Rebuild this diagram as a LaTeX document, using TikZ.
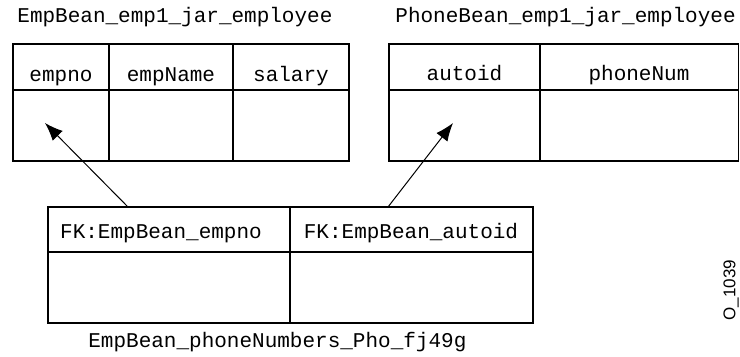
\documentclass[tikz,border=0pt]{standalone}
\usepackage{fontspec}
\newfontfamily\monof{Liberation Mono}
\newfontfamily\sansf{Liberation Sans}
\usetikzlibrary{arrows.meta}
\begin{document}
\begin{tikzpicture}[x=0.5pt,y=-0.5pt,
  cell/.style={draw, line width=0.6pt, inner sep=0pt, rectangle},
  hdr/.style={cell, minimum height=23pt},
  dat/.style={cell, minimum height=35.5pt},
  txt/.style={font=\monof\fontsize{10.5pt}{12pt}\selectfont, inner sep=0pt, anchor=base},
  fk/.style={line width=0.5pt, -{Latex[length=9pt,width=7pt]}}]
\useasboundingbox (0,0) rectangle (740,357);
% Table 1
\node[txt, anchor=base west] (t1) at (17,23) {EmpBean\_emp1\_jar\_employee};
\node[hdr, minimum width=48pt] (h11) at (61,67) {};
\node[hdr, minimum width=62pt] (h12) at (171,67) {};
\node[hdr, minimum width=58pt] (h13) at (291,67) {};
\node[dat, minimum width=48pt] (d11) at (61,125.5) {};
\node[dat, minimum width=62pt] (d12) at (171,125.5) {};
\node[dat, minimum width=58pt] (d13) at (291,125.5) {};
\node[txt] (l11) at (61,82) {empno};
\node[txt] (l12) at (171,82) {empName};
\node[txt] (l13) at (291,82) {salary};
% Table 2
\node[txt, anchor=base west] (t2) at (395,23) {PhoneBean\_emp1\_jar\_employee};
\node[hdr, minimum width=75.5pt] (h21) at (464.5,67) {};
\node[hdr, minimum width=99.5pt] (h22) at (639,67) {};
\node[dat, minimum width=75.5pt] (d21) at (464.5,125.5) {};
\node[dat, minimum width=99.5pt] (d22) at (639,125.5) {};
\node[txt] (l21) at (464.5,81) {autoid};
\node[txt] (l22) at (639,81) {phoneNum};
% Table 3
\node[hdr, minimum width=121pt, minimum height=22.5pt] (h31) at (169,229.5) {};
\node[hdr, minimum width=121.5pt, minimum height=22.5pt] (h32) at (411.5,229.5) {};
\node[dat, minimum width=121pt] (d31) at (169,287.5) {};
\node[dat, minimum width=121.5pt] (d32) at (411.5,287.5) {};
\node[txt] (l31) at (161,239) {FK:EmpBean\_empno};
\node[txt] (l32) at (411,239) {FK:EmpBean\_autoid};
\node[txt, anchor=base west] (t3) at (88,348) {EmpBean\_phoneNumbers\_Pho\_fj49g};
% Figure id
\node[font=\sansf\fontsize{8.5pt}{10pt}\selectfont, inner sep=0pt, rotate=90] (fid) at (731,290) {O\_1039};
% Connectors
\coordinate (s1) at (128,207);
\coordinate (e1) at (45,123);
\coordinate (s2) at (388,207);
\coordinate (e2) at (453,123);
\draw[fk] (s1) -- (e1);
\draw[fk] (s2) -- (e2);
\end{tikzpicture}
\end{document}
